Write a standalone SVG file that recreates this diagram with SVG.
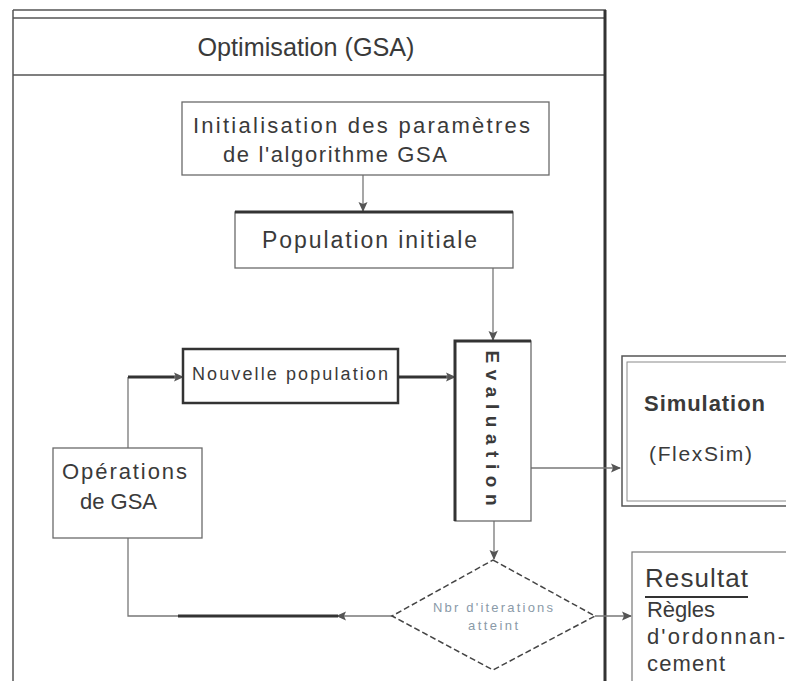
<svg xmlns="http://www.w3.org/2000/svg" width="786" height="681" viewBox="0 0 786 681">
  <style>
    text { font-family: "Liberation Sans", Arial, sans-serif; fill: #3a3a3a; }
    .box { fill: #fff; stroke: #6a6a6a; stroke-width: 1.3; }
    .conn { fill: none; stroke: #777; stroke-width: 1.3; }
    .conn-bold { fill: none; stroke: #333; stroke-width: 3; }
    .frame { fill: none; stroke: #555; stroke-width: 1.5; }
  </style>
  <defs>
    <marker id="arrow" viewBox="0 0 10 10" refX="9" refY="5" markerWidth="10" markerHeight="10" markerUnits="userSpaceOnUse" orient="auto">
      <path d="M0,0.5 L10,5 L0,9.5 L2,5 Z" fill="#555"/>
    </marker>
  </defs>
  <rect width="786" height="681" fill="#fff"/>

  <!-- swimlane frame with its header -->
  <g id="frame">
    <line class="frame" x1="13" y1="10" x2="606" y2="10"/>
    <line class="frame" x1="13" y1="18" x2="606" y2="18" stroke-width="1"/>
    <line class="frame" x1="13" y1="75" x2="606" y2="75"/>
    <line class="frame" x1="13" y1="10" x2="13" y2="681"/>
    <line x1="605" y1="10" x2="605" y2="681" stroke="#333" stroke-width="3"/>
    <text x="306" y="56" font-size="25" text-anchor="middle" textLength="217" lengthAdjust="spacingAndGlyphs">Optimisation (GSA)</text>
  </g>

  <!-- connectors -->
  <g id="connectors">
    <path class="conn" d="M363,175 V211" marker-end="url(#arrow)"/>
    <path class="conn" d="M493,268 V340" marker-end="url(#arrow)"/>
    <path class="conn-bold" d="M398,377 H448"/>
    <path class="conn" d="M446,377 H455" marker-end="url(#arrow)"/>
    <path class="conn" d="M128,448 V377"/>
    <path class="conn-bold" d="M128,377 H176"/>
    <path class="conn" d="M174,377 H183" marker-end="url(#arrow)"/>
    <path class="conn" d="M531,468 H620" marker-end="url(#arrow)"/>
    <path class="conn" d="M494,521 V559" marker-end="url(#arrow)"/>
    <path class="conn" d="M595,616 H631" marker-end="url(#arrow)"/>
    <path class="conn" d="M392,616 H337" marker-end="url(#arrow)"/>
    <path class="conn-bold" d="M338,616 H178"/>
    <path class="conn" d="M178,616 H128 V538"/>
  </g>

  <g id="init">
    <rect class="box" x="182" y="102" width="367" height="73"/>
    <text x="193" y="133" font-size="22" textLength="337" lengthAdjust="spacing">Initialisation des paramètres</text>
    <text x="223" y="162" font-size="22" textLength="224" lengthAdjust="spacing">de l'algorithme GSA</text>
  </g>

  <g id="population-initiale">
    <rect class="box" x="235" y="212" width="278" height="56"/>
    <line x1="235" y1="212" x2="513" y2="212" stroke="#333" stroke-width="3"/>
    <text x="262" y="248" font-size="23" textLength="215" lengthAdjust="spacing">Population initiale</text>
  </g>

  <g id="nouvelle-population">
    <rect x="183" y="349" width="215" height="54" fill="#fff" stroke="#333" stroke-width="2.5"/>
    <text x="192" y="380" font-size="18" textLength="196" lengthAdjust="spacing">Nouvelle population</text>
  </g>

  <g id="operations">
    <rect class="box" x="53" y="448" width="149" height="90"/>
    <text x="62" y="479" font-size="22" textLength="125" lengthAdjust="spacing">Opérations</text>
    <text x="80" y="509" font-size="22" textLength="77" lengthAdjust="spacing">de GSA</text>
  </g>

  <g id="evaluation">
    <rect class="box" x="455" y="341" width="76" height="180"/>
    <path d="M455,521 V341 H531" fill="none" stroke="#333" stroke-width="3"/>
    <text transform="translate(493,428) rotate(90)" dy="0.35em" font-size="19" font-weight="bold" text-anchor="middle" textLength="155" lengthAdjust="spacing">Evaluation</text>
  </g>

  <g id="simulation">
    <rect x="622" y="356" width="180" height="150" fill="#fff" stroke="#555" stroke-width="1.5"/>
    <rect x="627" y="362" width="180" height="139" fill="none" stroke="#8a8a8a" stroke-width="1"/>
    <text x="644" y="411" font-size="22" font-weight="bold" textLength="121" lengthAdjust="spacing">Simulation</text>
    <text x="649" y="461" font-size="21" textLength="103" lengthAdjust="spacing">(FlexSim)</text>
  </g>

  <g id="decision">
    <polygon points="493,560 595,616 493,670 392,616" fill="#fff" stroke="#444" stroke-width="1.5" stroke-dasharray="6,3"/>
    <text x="493" y="612" font-size="13" text-anchor="middle" textLength="120" lengthAdjust="spacing" style="fill:#8a9aa8">Nbr d'iterations</text>
    <text x="493" y="630" font-size="13" text-anchor="middle" textLength="50" lengthAdjust="spacing" style="fill:#8a9aa8">atteint</text>
  </g>

  <g id="resultat">
    <rect x="632" y="552" width="170" height="140" fill="#fff" stroke="#777" stroke-width="1.2"/>
    <text x="645" y="587" font-size="26" textLength="103" lengthAdjust="spacing">Resultat</text>
    <line x1="645" y1="597" x2="748" y2="597" stroke="#333" stroke-width="2"/>
    <text x="647" y="617" font-size="22" textLength="68" lengthAdjust="spacing">Règles</text>
    <text x="647" y="644" font-size="22" textLength="138" lengthAdjust="spacing">d'ordonnan-</text>
    <text x="647" y="671" font-size="22" textLength="78" lengthAdjust="spacing">cement</text>
  </g>
</svg>
